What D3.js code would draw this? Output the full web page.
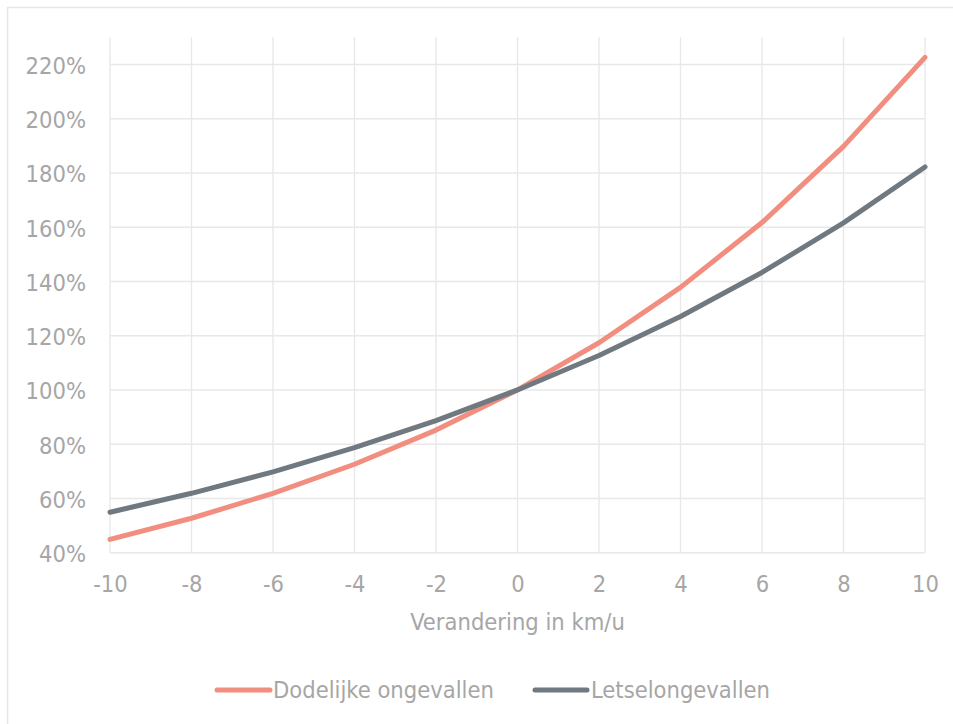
<!DOCTYPE html>
<html>
<head>
<meta charset="utf-8">
<script src="https://cdn.jsdelivr.net/npm/d3@7/dist/d3.min.js"></script>
<style>
  html, body { margin: 0; padding: 0; background: #fff; }
  svg { display: block; }
  svg text {
    font-family: "DejaVu Sans Condensed", "DejaVu Sans", sans-serif;
    font-stretch: condensed;
    fill: #a6a6a6;
  }
</style>
</head>
<body>
<svg id="chart" width="953" height="724"></svg>
<script>
// Speed change (km/h) and relative number of crashes (% of current level)
const speedChange = [-10, -8, -6, -4, -2, 0, 2, 4, 6, 8, 10];
const fatalCrashes = [44.9, 52.7, 61.9, 72.6, 85.2, 100, 117.4, 137.8, 161.7, 189.8, 222.6];
const injuryCrashes = [54.9, 61.9, 69.8, 78.7, 88.7, 100, 112.7, 127.1, 143.3, 161.6, 182.2];
const yTicks = [40, 60, 80, 100, 120, 140, 160, 180, 200, 220];
const xTicks = [-10, -8, -6, -4, -2, 0, 2, 4, 6, 8, 10];

const seriesNames = ["Dodelijke ongevallen", "Letselongevallen"];
const seriesColors = ["#f28e7f", "#707980"];
const xTitle = "Verandering in km/u";

const FS = 23.5;
const svg = d3.select("#chart");
const W = 953, H = 724;
const plot = { left: 110, right: 925, top: 37.3, bottom: 552.7 };

// Outer chart frame (runs off the right and bottom edges)
svg.append("rect")
  .attr("x", 7.5).attr("y", 7.5)
  .attr("width", W + 20).attr("height", H + 20)
  .attr("fill", "#fff")
  .attr("stroke", "#e6e6e6").attr("stroke-width", 1.5);

const x = d3.scaleLinear().domain([-10, 10]).range([plot.left, plot.right]);
const y = d3.scaleLinear().domain([40, 230]).range([plot.bottom, plot.top]);

// Gridlines
const grid = svg.append("g").attr("stroke", "#e8e8e8").attr("stroke-width", 1.4);
grid.selectAll("line.h").data(yTicks).join("line")
  .attr("x1", plot.left).attr("x2", plot.right)
  .attr("y1", d => y(d)).attr("y2", d => y(d));
grid.selectAll("line.v").data(xTicks).join("line")
  .attr("y1", plot.top).attr("y2", plot.bottom)
  .attr("x1", d => x(d)).attr("x2", d => x(d));

// Y axis labels
const yAxis = d3.axisLeft(y).tickValues(yTicks).tickSize(0).tickPadding(24)
  .tickFormat(d => d + "%");
svg.append("g").attr("transform", `translate(${plot.left},0)`).call(yAxis)
  .call(g => g.select(".domain").remove())
  .call(g => g.selectAll("text").attr("fill", null).attr("font-size", FS).attr("dy", "0.38em"));

// X axis labels (plain hyphen for negatives)
const xAxis = d3.axisBottom(x).tickValues(xTicks).tickSize(0).tickPadding(23)
  .tickFormat(d => String(d));
svg.append("g").attr("transform", `translate(0,${plot.bottom})`).call(xAxis)
  .call(g => g.select(".domain").remove())
  .call(g => g.selectAll("text").attr("fill", null).attr("font-size", FS));
svg.selectAll("g.tick text").attr("font-family", null);
svg.selectAll("g").attr("font-family", null);

// X axis title
svg.append("text")
  .attr("x", (plot.left + plot.right) / 2).attr("y", 630)
  .attr("text-anchor", "middle").attr("font-size", FS)
  .text(xTitle);

// Lines
const line = d3.line().x((d, i) => x(speedChange[i])).y(d => y(d));
[fatalCrashes, injuryCrashes].forEach((vals, k) => {
  svg.append("path").datum(vals)
    .attr("d", line)
    .attr("fill", "none")
    .attr("stroke", seriesColors[k])
    .attr("stroke-width", 5)
    .attr("stroke-linejoin", "round")
    .attr("stroke-linecap", "round");
});

// Legend
const legendItems = [
  { x0: 217, x1: 270, tx: 273 },
  { x0: 535, x1: 587, tx: 591 }
];
legendItems.forEach((it, k) => {
  svg.append("line")
    .attr("x1", it.x0).attr("x2", it.x1).attr("y1", 690).attr("y2", 690)
    .attr("stroke", seriesColors[k]).attr("stroke-width", 5)
    .attr("stroke-linecap", "round");
  svg.append("text")
    .attr("x", it.tx).attr("y", 698)
    .attr("font-size", FS)
    .text(seriesNames[k]);
});
</script>
</body>
</html>
